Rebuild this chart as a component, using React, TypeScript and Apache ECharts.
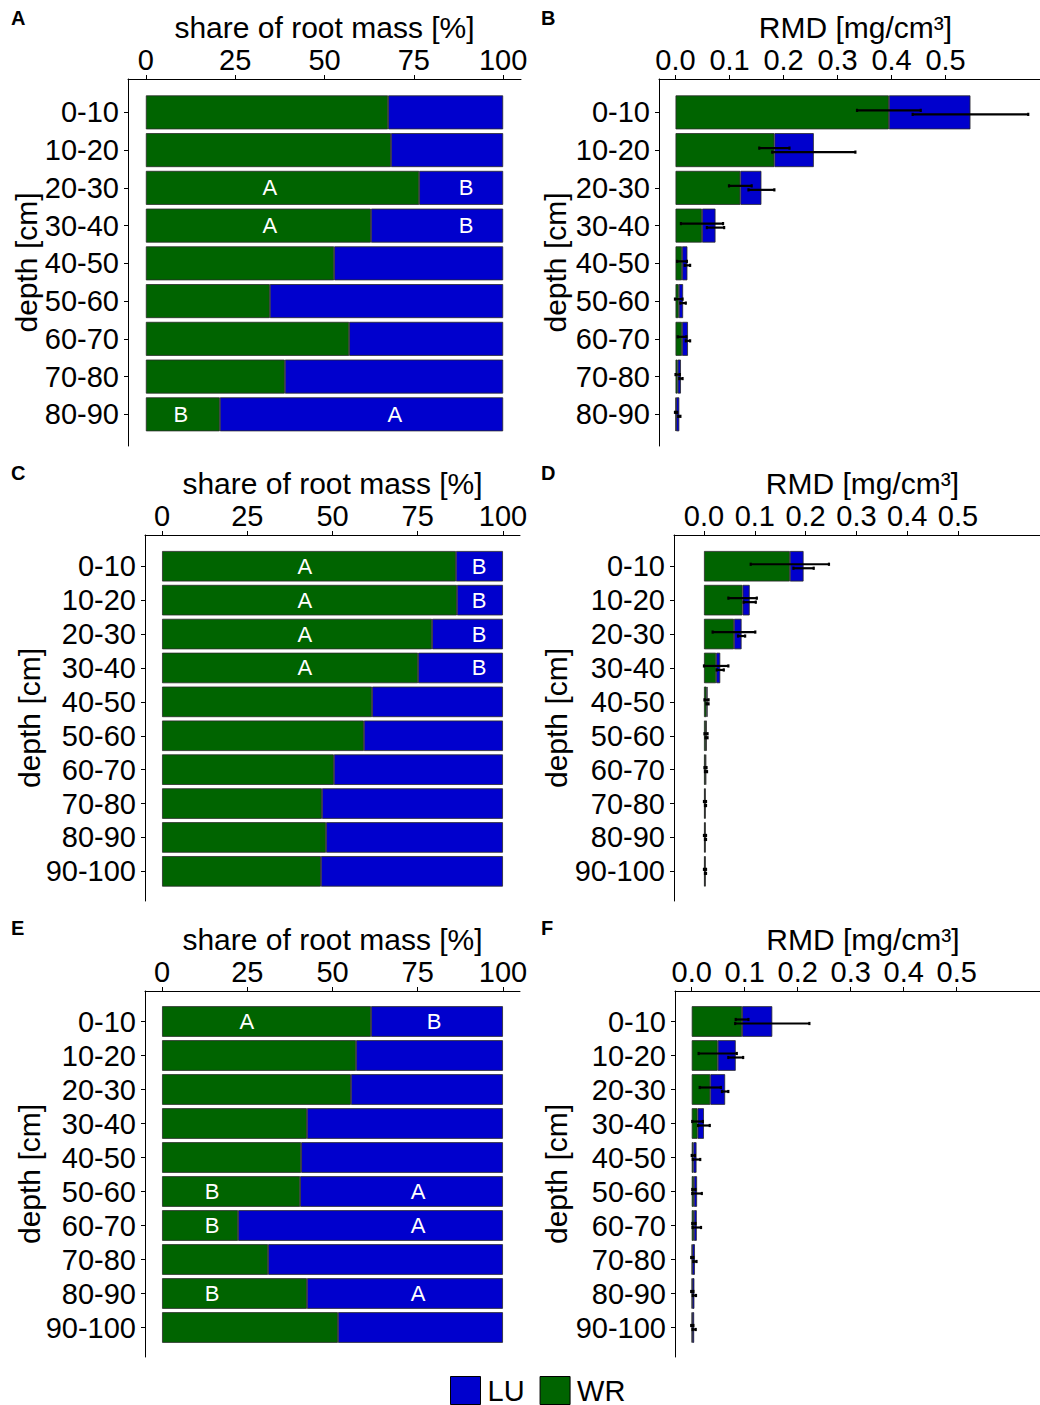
import React, { useEffect, useRef } from "react";
import * as echarts from "echarts";

// ---------- data ----------
const depth9 = ["0-10", "10-20", "20-30", "30-40", "40-50", "50-60", "60-70", "70-80", "80-90"];
const depth10 = ["0-10", "10-20", "20-30", "30-40", "40-50", "50-60", "60-70", "70-80", "80-90", "90-100"];

const shareTicks = [0, 25, 50, 75, 100];
const rmdTicks = [0, 0.1, 0.2, 0.3, 0.4, 0.5];

// Panel A (share, %)
const shareA_WR = [67.8, 68.6, 76.5, 63.0, 52.7, 34.7, 56.9, 38.9, 20.7];
const shareA_LU = [32.2, 31.4, 23.5, 37.0, 47.3, 65.3, 43.1, 61.1, 79.3];
const lettersA: [string, number, string][] = [
  ["20-30", 34.7, "A"], ["20-30", 89.6, "B"],
  ["30-40", 34.7, "A"], ["30-40", 89.6, "B"],
  ["80-90", 9.8, "B"], ["80-90", 69.7, "A"],
];

// Panel B (RMD, mg/cm3)
const rmdB_WR = [0.395, 0.183, 0.120, 0.049, 0.012, 0.006, 0.012, 0.004, 0.001];
const rmdB_LU = [0.151, 0.073, 0.039, 0.025, 0.010, 0.008, 0.011, 0.006, 0.006];
const errB_WR = [0.059, 0.028, 0.021, 0.039, 0.009, 0.007, 0.008, 0.004, 0.002];
const errB_LU = [0.107, 0.077, 0.024, 0.016, 0.005, 0.005, 0.004, 0.003, 0.002];

// Panel C (share, %)
const shareC_WR = [86.2, 86.5, 79.2, 75.1, 61.6, 59.2, 50.4, 46.9, 48.1, 46.6];
const shareC_LU = [13.8, 13.5, 20.8, 24.9, 38.4, 40.8, 49.6, 53.1, 51.9, 53.4];
const lettersC: [string, number, string][] = [
  ["0-10", 41.9, "A"], ["0-10", 93.0, "B"],
  ["10-20", 41.9, "A"], ["10-20", 93.0, "B"],
  ["20-30", 41.9, "A"], ["20-30", 93.0, "B"],
  ["30-40", 41.9, "A"], ["30-40", 93.0, "B"],
];

// Panel D (RMD)
const rmdD_WR = [0.169, 0.076, 0.059, 0.024, 0.005, 0.004, 0.003, 0.002, 0.002, 0.002];
const rmdD_LU = [0.027, 0.014, 0.015, 0.008, 0.002, 0.001, 0.001, 0.001, 0.001, 0.001];
const errD_WR = [0.077, 0.028, 0.042, 0.024, 0.004, 0.003, 0.002, 0.002, 0.002, 0.002];
const errD_LU = [0.020, 0.012, 0.007, 0.007, 0.002, 0.002, 0.002, 0.001, 0.001, 0.001];

// Panel E (share, %)
const shareE_WR = [61.3, 56.9, 55.4, 42.5, 40.8, 40.5, 22.3, 31.1, 42.5, 51.6];
const shareE_LU = [38.7, 43.1, 44.6, 57.5, 59.2, 59.5, 77.7, 68.9, 57.5, 48.4];
const lettersE: [string, number, string][] = [
  ["0-10", 24.9, "A"], ["0-10", 79.8, "B"],
  ["50-60", 14.7, "B"], ["50-60", 75.1, "A"],
  ["60-70", 14.7, "B"], ["60-70", 75.1, "A"],
  ["80-90", 14.7, "B"], ["80-90", 75.1, "A"],
];

// Panel F (RMD)
const rmdF_WR = [0.095, 0.049, 0.035, 0.011, 0.003, 0.004, 0.004, 0.001, 0.001, 0.001];
const rmdF_LU = [0.057, 0.034, 0.028, 0.012, 0.006, 0.006, 0.0055, 0.005, 0.004, 0.0035];
const errF_WR = [0.012, 0.036, 0.020, 0.010, 0.003, 0.003, 0.003, 0.002, 0.002, 0.002];
const errF_LU = [0.070, 0.014, 0.006, 0.011, 0.007, 0.009, 0.008, 0.003, 0.003, 0.003];

// ---------- styling / layout ----------
const FONT = "'Liberation Sans', Arial, Helvetica, sans-serif";
const GREEN = "#006400";
const BLUE = "#0000CD";
const BORDER = "#2a2a2a";

type Panel = {
  key: string;
  kind: "share" | "rmd";
  depths: string[];
  wr: number[];
  lu: number[];
  errWR?: number[];
  errLU?: number[];
  letters?: [string, number, string][];
  frame: { left: number; top: number; width: number; height: number };
  rowTop: number;
  rowH: number;
  min: number;
  max: number;
  yNameGap: number;
  letterPos: [number, number];
};

const panels: Panel[] = [
  { key: "A", kind: "share", depths: depth9, wr: shareA_WR, lu: shareA_LU, letters: lettersA,
    frame: { left: 128, top: 79, width: 393, height: 367 }, rowTop: 93.5, rowH: 339.7,
    min: -5, max: 105, yNameGap: 87, letterPos: [11, 8] },
  { key: "B", kind: "rmd", depths: depth9, wr: rmdB_WR, lu: rmdB_LU, errWR: errB_WR, errLU: errB_LU,
    frame: { left: 659, top: 79, width: 393, height: 367 }, rowTop: 93.5, rowH: 339.7,
    min: -0.0306, max: 0.697, yNameGap: 89, letterPos: [541, 8] },
  { key: "C", kind: "share", depths: depth10, wr: shareC_WR, lu: shareC_LU, letters: lettersC,
    frame: { left: 145, top: 535, width: 375, height: 366 }, rowTop: 549.3, rowH: 339,
    min: -5, max: 105, yNameGap: 101, letterPos: [11, 463] },
  { key: "D", kind: "rmd", depths: depth10, wr: rmdD_WR, lu: rmdD_LU, errWR: errD_WR, errLU: errD_LU,
    frame: { left: 674, top: 535, width: 377, height: 366 }, rowTop: 549.3, rowH: 339,
    min: -0.059, max: 0.683, yNameGap: 103, letterPos: [541, 463] },
  { key: "E", kind: "share", depths: depth10, wr: shareE_WR, lu: shareE_LU, letters: lettersE,
    frame: { left: 145, top: 991, width: 375, height: 366 }, rowTop: 1004.5, rowH: 340,
    min: -5, max: 105, yNameGap: 101, letterPos: [11, 918] },
  { key: "F", kind: "rmd", depths: depth10, wr: rmdF_WR, lu: rmdF_LU, errWR: errF_WR, errLU: errF_LU,
    frame: { left: 675, top: 991, width: 376, height: 366 }, rowTop: 1004.5, rowH: 340,
    min: -0.0316, max: 0.678, yNameGap: 104, letterPos: [541, 918] },
];

function buildOption() {
  const grid: any[] = [];
  const xAxis: any[] = [];
  const yAxis: any[] = [];
  const series: any[] = [];
  const graphic: any[] = [];
  const axisLineStyle = { color: "#000", width: 1 };
  const labelText = { fontSize: 29, color: "#000", fontFamily: FONT };
  const titleText = { fontSize: 30, color: "#000", fontFamily: FONT };

  panels.forEach((p, k) => {
    const fi = 2 * k;
    const di = 2 * k + 1;
    const ticks = p.kind === "share" ? shareTicks : rmdTicks;
    grid.push({ ...p.frame, outerBoundsMode: "none", containLabel: false });
    grid.push({ left: p.frame.left, width: p.frame.width, top: p.rowTop, height: p.rowH,
      outerBoundsMode: "none", containLabel: false });

    xAxis.push({
      gridIndex: fi, type: "value", position: "top", min: p.min, max: p.max,
      axisLine: { show: true, onZero: false, lineStyle: axisLineStyle },
      axisTick: { show: true, length: 4, customValues: ticks, lineStyle: { color: "#000" } },
      axisLabel: { show: true, customValues: ticks, margin: 5, ...labelText,
        formatter: (v: number) => (p.kind === "share" ? String(Math.round(v)) : v.toFixed(1)) },
      splitLine: { show: false },
      name: p.kind === "share" ? "share of root mass [%]" : "RMD [mg/cm³]",
      nameLocation: "middle", nameGap: 37, nameMoveOverlap: false,
      nameTextStyle: { ...titleText },
    });
    xAxis.push({ gridIndex: di, type: "value", min: p.min, max: p.max, show: false });

    yAxis.push({
      gridIndex: fi, type: "value", min: 0, max: 1,
      axisLine: { show: true, onZero: false, lineStyle: axisLineStyle },
      axisTick: { show: false }, axisLabel: { show: false }, splitLine: { show: false },
      name: "depth [cm]", nameLocation: "middle", nameRotate: 90, nameGap: p.yNameGap,
      nameMoveOverlap: false, nameTextStyle: { ...titleText },
    });
    yAxis.push({
      gridIndex: di, type: "category", inverse: true, data: p.depths,
      axisLine: { show: false, onZero: false },
      axisTick: { show: true, length: 4, alignWithLabel: true, lineStyle: { color: "#000" } },
      axisLabel: { show: true, margin: 9, ...labelText, interval: 0 },
      splitLine: { show: false },
    });

    const barCommon = { type: "bar", xAxisIndex: di, yAxisIndex: di, stack: "s" + p.key,
      barWidth: "90%", animation: false };
    series.push({ ...barCommon, name: "WR", data: p.wr,
      itemStyle: { color: GREEN, borderColor: BORDER, borderWidth: 0.8 } });
    series.push({ ...barCommon, name: "LU", data: p.lu,
      itemStyle: { color: BLUE, borderColor: BORDER, borderWidth: 0.8 } });

    if (p.kind === "rmd" && p.errWR && p.errLU) {
      const mk = (centers: number[], errs: number[], dy: number) => ({
        type: "custom", name: "err" + p.key + dy, xAxisIndex: di, yAxisIndex: di, z: 5,
        encode: { x: 0, y: 1 },
        data: centers.map((c, i) => [c, i, errs[i]]),
        renderItem: (_params: any, api: any) => {
          const c = api.value(0);
          const idx = api.value(1);
          const e = api.value(2);
          const a = api.coord([c - e, idx]);
          const b = api.coord([c + e, idx]);
          const y = a[1] + dy;
          const st = { stroke: "#000", lineWidth: 2.2 };
          return {
            type: "group",
            children: [
              { type: "line", shape: { x1: a[0], y1: y, x2: b[0], y2: y }, style: st },
              { type: "line", shape: { x1: a[0], y1: y - 1.6, x2: a[0], y2: y + 1.6 }, style: st },
              { type: "line", shape: { x1: b[0], y1: y - 1.6, x2: b[0], y2: y + 1.6 }, style: st },
            ],
          };
        },
      });
      const totals = p.wr.map((w, i) => w + p.lu[i]);
      series.push(mk(p.wr, p.errWR, -2));
      series.push(mk(totals, p.errLU, 2));
    }

    if (p.letters) {
      const L = p.letters;
      series.push({
        type: "custom", name: "lab" + p.key, xAxisIndex: di, yAxisIndex: di, z: 6,
        encode: { x: 0, y: 1 },
        data: L.map((l) => [l[1], p.depths.indexOf(l[0])]),
        renderItem: (params: any, api: any) => {
          const pt = api.coord([api.value(0), api.value(1)]);
          return {
            type: "text", x: pt[0], y: pt[1],
            style: { text: L[params.dataIndex][2], fill: "#fff", fontSize: 22, fontFamily: FONT,
              align: "center", verticalAlign: "middle" },
          };
        },
      });
    }

    graphic.push({
      type: "text", left: p.letterPos[0], top: p.letterPos[1],
      style: { text: p.key, fontSize: 20, fontWeight: "bold", fill: "#000", fontFamily: FONT },
    });
  });

  return {
    animation: false,
    backgroundColor: "#fff",
    grid, xAxis, yAxis, series, graphic,
    legend: {
      data: ["LU", "WR"], left: 450, top: 1376, itemWidth: 30, itemHeight: 28, itemGap: 15,
      padding: 0, icon: "rect", selectedMode: false,
      textStyle: { fontSize: 29, lineHeight: 28, color: "#000", fontFamily: FONT, padding: [0, 0, 0, 2] },
      itemStyle: { borderColor: "#000", borderWidth: 1 },
    },
  };
}

export default function App() {
  const ref = useRef<HTMLDivElement>(null);
  useEffect(() => {
    if (!ref.current) return;
    const chart = echarts.init(ref.current, undefined, { renderer: "svg" });
    chart.setOption(buildOption() as any);
    return () => chart.dispose();
  }, []);
  return (
    <div
      ref={ref}
      style={{ position: "absolute", left: 0, top: 0, width: 1040, height: 1405, background: "#fff" }}
    />
  );
}
